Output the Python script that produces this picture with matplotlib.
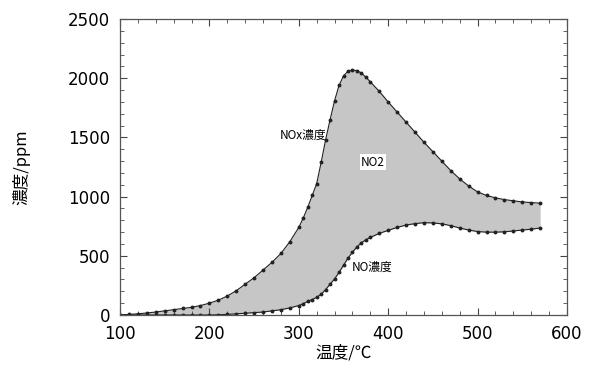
import numpy as np
import matplotlib
matplotlib.use('Agg')
import matplotlib.pyplot as plt
from matplotlib.ticker import MultipleLocator

plt.rcParams['font.family'] = ['Noto Sans CJK JP', 'DejaVu Sans']

# temperature (°C) and concentrations (ppm)
temp = [100, 110, 120, 130, 140, 150, 160, 170, 180, 190, 200, 210, 220, 230,
        240, 250, 260, 270, 280, 290, 300, 305, 310, 315, 320, 325, 330, 335,
        340, 345, 350, 355, 360, 365, 370, 375, 380, 390, 400, 410, 420, 430,
        440, 450, 460, 470, 480, 490, 500, 510, 520, 530, 540, 550, 560, 570]
nox = [0, 5, 10, 17, 25, 35, 45, 55, 65, 80, 100, 125, 160, 205,
       260, 315, 380, 445, 520, 620, 740, 820, 910, 1010, 1110, 1290, 1480, 1650,
       1810, 1940, 2020, 2060, 2070, 2065, 2045, 2010, 1970, 1890, 1800, 1715, 1630, 1545,
       1460, 1380, 1300, 1220, 1150, 1090, 1040, 1010, 990, 975, 965, 955, 950, 945]
no = [0, 0, 0, 0, 0, 0, 0, 0, 0, 0, 0, 2, 5, 10,
      15, 20, 25, 35, 45, 60, 80, 95, 115, 130, 150, 175, 215, 260,
      305, 360, 420, 480, 530, 575, 610, 635, 655, 690, 715, 740, 760, 772,
      780, 778, 770, 755, 735, 718, 705, 700, 700, 703, 710, 718, 725, 735]

fig = plt.figure(figsize=(6, 3.75), dpi=100)
ax = fig.add_axes([0.2, 0.16, 0.745, 0.789])

ax.fill_between(temp, no, nox, color='#c6c6c6', lw=0)
ax.plot(temp, nox, '-', color='#222222', lw=0.8, marker='o', ms=1.8)
ax.plot(temp, no, '-', color='#222222', lw=0.8, marker='o', ms=1.8)

ax.text(305, 1520, 'NOx濃度', fontsize=8.5, ha='center', va='center')
ax.text(383, 1290, 'NO2', fontsize=8.5, ha='center', va='center',
        bbox=dict(facecolor='white', edgecolor='none', pad=1))
ax.text(382, 405, 'NO濃度', fontsize=8.5, ha='center', va='center')

ax.set_xlim(100, 600)
ax.set_ylim(0, 2500)
ax.xaxis.set_major_locator(MultipleLocator(100))
ax.xaxis.set_minor_locator(MultipleLocator(20))
ax.yaxis.set_major_locator(MultipleLocator(500))
ax.yaxis.set_minor_locator(MultipleLocator(100))
ax.tick_params(which='both', direction='in', top=True, right=True,
               color='#444444')
ax.tick_params(which='major', length=5, width=0.8, pad=7)
ax.tick_params(which='minor', length=3, width=0.6)
for lab in ax.get_xticklabels() + ax.get_yticklabels():
    lab.set_fontfamily('DejaVu Sans')
    lab.set_fontsize(12)
for s in ax.spines.values():
    s.set_color('#555555')
    s.set_linewidth(0.9)

ax.set_xlabel('温度/℃', fontsize=12, labelpad=1)
ax.set_ylabel('濃度/ppm', fontsize=12, labelpad=27)

fig.savefig('out.png', dpi=100)
